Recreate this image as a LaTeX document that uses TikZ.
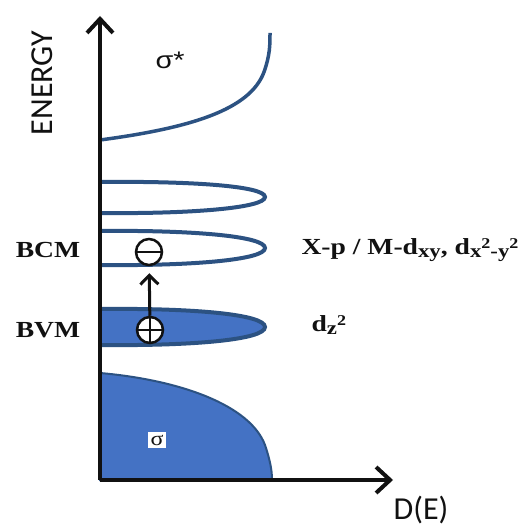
\documentclass[tikz,border=0pt]{standalone}
\usepackage{fontspec}
\setmainfont{Liberation Serif}[FakeStretch=1.2]
\newfontfamily\calibfont{Carlito}
\newfontfamily\arialfont{Liberation Sans}[FakeStretch=1.2]
\usepackage{tikz}
\usetikzlibrary{arrows.meta}
\definecolor{bandfill}{HTML}{4472C4}
\definecolor{bandline}{HTML}{2C5282}
\definecolor{axisblack}{HTML}{111111}
\newcommand\lowtxt[1]{\raisebox{-0.3ex}{\fontsize{19}{19}\selectfont #1}}
\newcommand\hightxt[1]{\raisebox{1.1ex}{\fontsize{15}{15}\selectfont #1}}
\tikzset{
  axis/.style={draw=axisblack,line width=4pt,-{Straight Barb[length=14pt,width=26pt]}},
  band/.style={draw=bandline,line width=4pt},
  fullband/.style={band,fill=bandfill},
  carrier/.style={circle,draw=axisblack,line width=2.5pt,fill=white,minimum size=26pt,inner sep=0pt},
  excite/.style={draw=axisblack,line width=3pt,-{Straight Barb[length=9pt,width=18pt]},shorten >=7pt},
  bandname/.style={font=\bfseries\fontsize{23}{26}\selectfont,text=axisblack},
  orbname/.style={font=\bfseries\fontsize{23}{26}\selectfont,text=axisblack,anchor=west},
  axisname/.style={font=\calibfont\fontsize{32}{34}\selectfont,text=axisblack}
}
\begin{document}
\begin{tikzpicture}[x=1pt,y=-1pt]
  \useasboundingbox[fill=white] (0,0) rectangle (529,526);
  % axes end points
  \coordinate (O) at (100,480);
  \coordinate (ytop) at (100,16);
  \coordinate (xend) at (393,480);
  % sigma band (filled)
  \draw[fullband,line width=2pt] (100,373) .. controls (180,380) and (250,405) .. (265,445)
    .. controls (270,460) and (272,470) .. (272,480) -- (O) -- cycle;
  % BVM band (filled)
  \draw[fullband] (100,309) .. controls (190,308) and (265,314) .. (265,327)
    .. controls (265,340) and (190,346) .. (100,345);
  % BCM band
  \draw[band] (100,231) .. controls (190,230) and (265,236) .. (265,248)
    .. controls (265,260) and (190,266) .. (100,265);
  % upper band
  \draw[band] (100,182) .. controls (190,181) and (265,186) .. (265,197)
    .. controls (265,208) and (190,214) .. (100,213);
  % sigma* band
  \draw[band,line width=3.5pt] (100,140) .. controls (190,128) and (250,110) .. (264,72)
    .. controls (270,55) and (270,45) .. (270,33);
  % axes
  \draw[axis] (O) -- (ytop);
  \draw[axis] (O) -- (xend);
  % carriers
  \node[carrier] (elec) at (149,252) {};
  \draw[axisblack,line width=2pt] (elec.west) -- (elec.east);
  \node[carrier] (hole) at (150,330) {};
  \draw[axisblack,line width=2pt] (hole.west) -- (hole.east);
  \draw[axisblack,line width=2pt] (hole.north) -- (hole.south);
  \draw[excite] (hole) -- (elec);
  % labels
  \node[axisname,rotate=90] (energy) at (42,83) {ENERGY};
  \node[axisname,inner sep=1pt] (dos) at (421,510) {D(E)};
  \node[font=\arialfont\fontsize{24}{26}\selectfont,text=axisblack] (sigstar) at (170,60) {σ*};
  \node[fill=white,inner sep=3pt,font=\fontsize{20}{20}\selectfont,text=axisblack] (sig) at (157,440) {σ};
  \node[bandname] (bcm) at (48,250) {BCM};
  \node[bandname] (bvm) at (48,330) {BVM};
  \node[orbname] (cbm) at (298,250) {X-p / M-d\lowtxt{xy}, d\lowtxt{x\hightxt{2}-y\hightxt{2}}};
  \node[orbname] (vbm) at (308,325) {d\lowtxt{z\hightxt{2}}};
\end{tikzpicture}
\end{document}
